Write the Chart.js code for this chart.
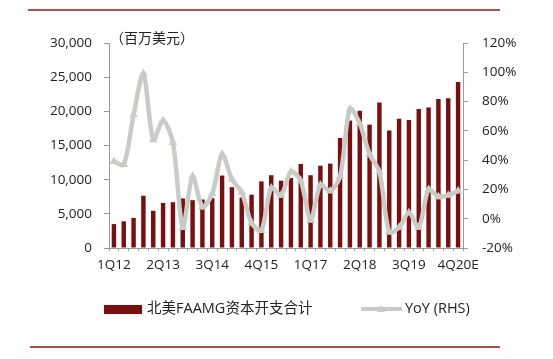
<!DOCTYPE html>
<html>
<head>
<meta charset="utf-8">
<script src="https://cdn.jsdelivr.net/npm/chart.js@4.4.0/dist/chart.umd.min.js"></script>
<style>
  html, body { margin: 0; padding: 0; background: #fff; }
  #wrap { width: 553px; height: 359px; position: relative; }
</style>
</head>
<body>
<div id="wrap"><canvas id="capexChart" width="553" height="359"></canvas></div>
<script>
// quarters 1Q12 .. 4Q20E
const quarters = [
    '1Q12', '2Q12', '3Q12', '4Q12',
    '1Q13', '2Q13', '3Q13', '4Q13',
    '1Q14', '2Q14', '3Q14', '4Q14',
    '1Q15', '2Q15', '3Q15', '4Q15',
    '1Q16', '2Q16', '3Q16', '4Q16',
    '1Q17', '2Q17', '3Q17', '4Q17',
    '1Q18', '2Q18', '3Q18', '4Q18',
    '1Q19', '2Q19', '3Q19', '4Q19',
    '1Q20', '2Q20', '3Q20', '4Q20E'
];

// 北美FAAMG资本开支合计 (百万美元)
const capex = [
    3500, 3900, 4400, 7650,
    5450, 6600, 6700, 7250,
    7000, 7100, 7300, 10600,
    8900, 7400, 7800, 9750,
    10650, 9850, 10250, 12300,
    10650, 12050, 12350, 16100,
    18650, 20100, 18050, 21300,
    17200, 18900, 18750, 20350,
    20550, 21800, 21900, 24300
];

// YoY (RHS), %
const yoy = [
    39, 37, 71, 99,
    54, 67, 52, -6,
    29, 8, 17, 44,
    27, 18, -3, -8,
    21, 16, 32, 26,
    -1, 23, 19, 29,
    75, 65, 44, 32,
    -9, -6, 4, -6,
    20, 15, 16, 19
];

const leftTicks = [0, 5000, 10000, 15000, 20000, 25000, 30000];
const rightTicks = [-20, 0, 20, 40, 60, 80, 100, 120];

const barColor = '#7a0f0f';
const lineColor = '#c9ccc6';
const axisColor = '#9a9a9a';
const textColor = '#222222';
const fontFamily = '"Open Sans", "Noto Sans CJK SC", sans-serif';

// frame lines, unit text and legend
const decorPlugin = {
    id: 'decor',
    afterDraw(chart) {
        const ctx = chart.ctx;
        ctx.save();
        ctx.strokeStyle = '#8b1a1a';
        ctx.lineWidth = 1.5;
        ctx.beginPath();
        ctx.moveTo(28, 10); ctx.lineTo(500, 10);
        ctx.moveTo(30, 347); ctx.lineTo(500, 347);
        ctx.stroke();

        ctx.fillStyle = textColor;
        ctx.font = '14px "Noto Sans CJK SC", sans-serif';
        ctx.textBaseline = 'middle';
        ctx.fillText('（百万美元）', 110, 38);

        // legend
        const ly = 309;
        ctx.fillStyle = barColor;
        ctx.fillRect(104, ly - 4, 38, 9);
        ctx.fillStyle = textColor;
        ctx.font = '14.5px ' + fontFamily;
        ctx.fillText(chart.data.datasets[0].label, 147, ly);

        ctx.strokeStyle = lineColor;
        ctx.lineWidth = 4;
        ctx.beginPath();
        ctx.moveTo(361, ly); ctx.lineTo(402, ly);
        ctx.stroke();
        ctx.fillStyle = lineColor;
        ctx.beginPath();
        ctx.moveTo(381, ly - 4); ctx.lineTo(385, ly + 3); ctx.lineTo(377, ly + 3);
        ctx.closePath();
        ctx.fill();
        ctx.fillStyle = textColor;
        ctx.fillText(chart.data.datasets[1].label, 405, ly);
        ctx.restore();
    }
};

const ctxCapex = document.getElementById('capexChart').getContext('2d');
new Chart(ctxCapex, {
    type: 'bar',
    data: {
        labels: quarters,
        datasets: [{
            label: '北美FAAMG资本开支合计',
            data: capex,
            backgroundColor: barColor,
            barPercentage: 0.45,
            categoryPercentage: 1,
            yAxisID: 'y',
            order: 2
        }, {
            type: 'line',
            label: 'YoY (RHS)',
            data: yoy,
            borderColor: lineColor,
            backgroundColor: lineColor,
            borderWidth: 4.5,
            tension: 0.3,
            pointStyle: 'triangle',
            pointRadius: 5,
            pointBorderWidth: 0,
            pointBackgroundColor: lineColor,
            yAxisID: 'y1',
            order: 1
        }]
    },
    options: {
        responsive: false,
        animation: false,
        layout: { padding: { top: 43, left: 0, right: 0, bottom: 0 } },
        plugins: {
            legend: { display: false },
            tooltip: { enabled: false }
        },
        scales: {
            x: {
                offset: true,
                grid: {
                    offset: true,
                    drawOnChartArea: false,
                    tickLength: 3,
                    color: axisColor
                },
                border: { color: axisColor, width: 1 },
                ticks: {
                    autoSkip: false,
                    maxRotation: 0,
                    padding: 6,
                    color: textColor,
                    font: { family: fontFamily, size: 13.5 },
                    callback: function (value, index) {
                        return index % 5 === 0 ? quarters[index] : '';
                    }
                },
                afterFit: function (scale) { scale.height = 111; }
            },
            y: {
                position: 'left',
                min: 0,
                max: 30000,
                afterBuildTicks: function (scale) {
                    scale.ticks = leftTicks.map(v => ({ value: v }));
                },
                grid: {
                    drawOnChartArea: false,
                    tickLength: 5,
                    color: axisColor
                },
                border: { color: axisColor, width: 1 },
                ticks: {
                    padding: 12,
                    color: textColor,
                    font: { family: fontFamily, size: 13.5 },
                    callback: function (value) { return value.toLocaleString('en-US'); }
                },
                afterFit: function (scale) { scale.width = 109; }
            },
            y1: {
                position: 'right',
                min: -20,
                max: 120,
                afterBuildTicks: function (scale) {
                    scale.ticks = rightTicks.map(v => ({ value: v }));
                },
                grid: {
                    drawOnChartArea: false,
                    tickLength: 5,
                    color: axisColor
                },
                border: { color: axisColor, width: 1 },
                ticks: {
                    padding: 14,
                    color: textColor,
                    font: { family: fontFamily, size: 13.5 },
                    callback: function (value) { return value + '%'; }
                },
                afterFit: function (scale) { scale.width = 90; }
            }
        }
    },
    plugins: [decorPlugin]
});
</script>
</body>
</html>
